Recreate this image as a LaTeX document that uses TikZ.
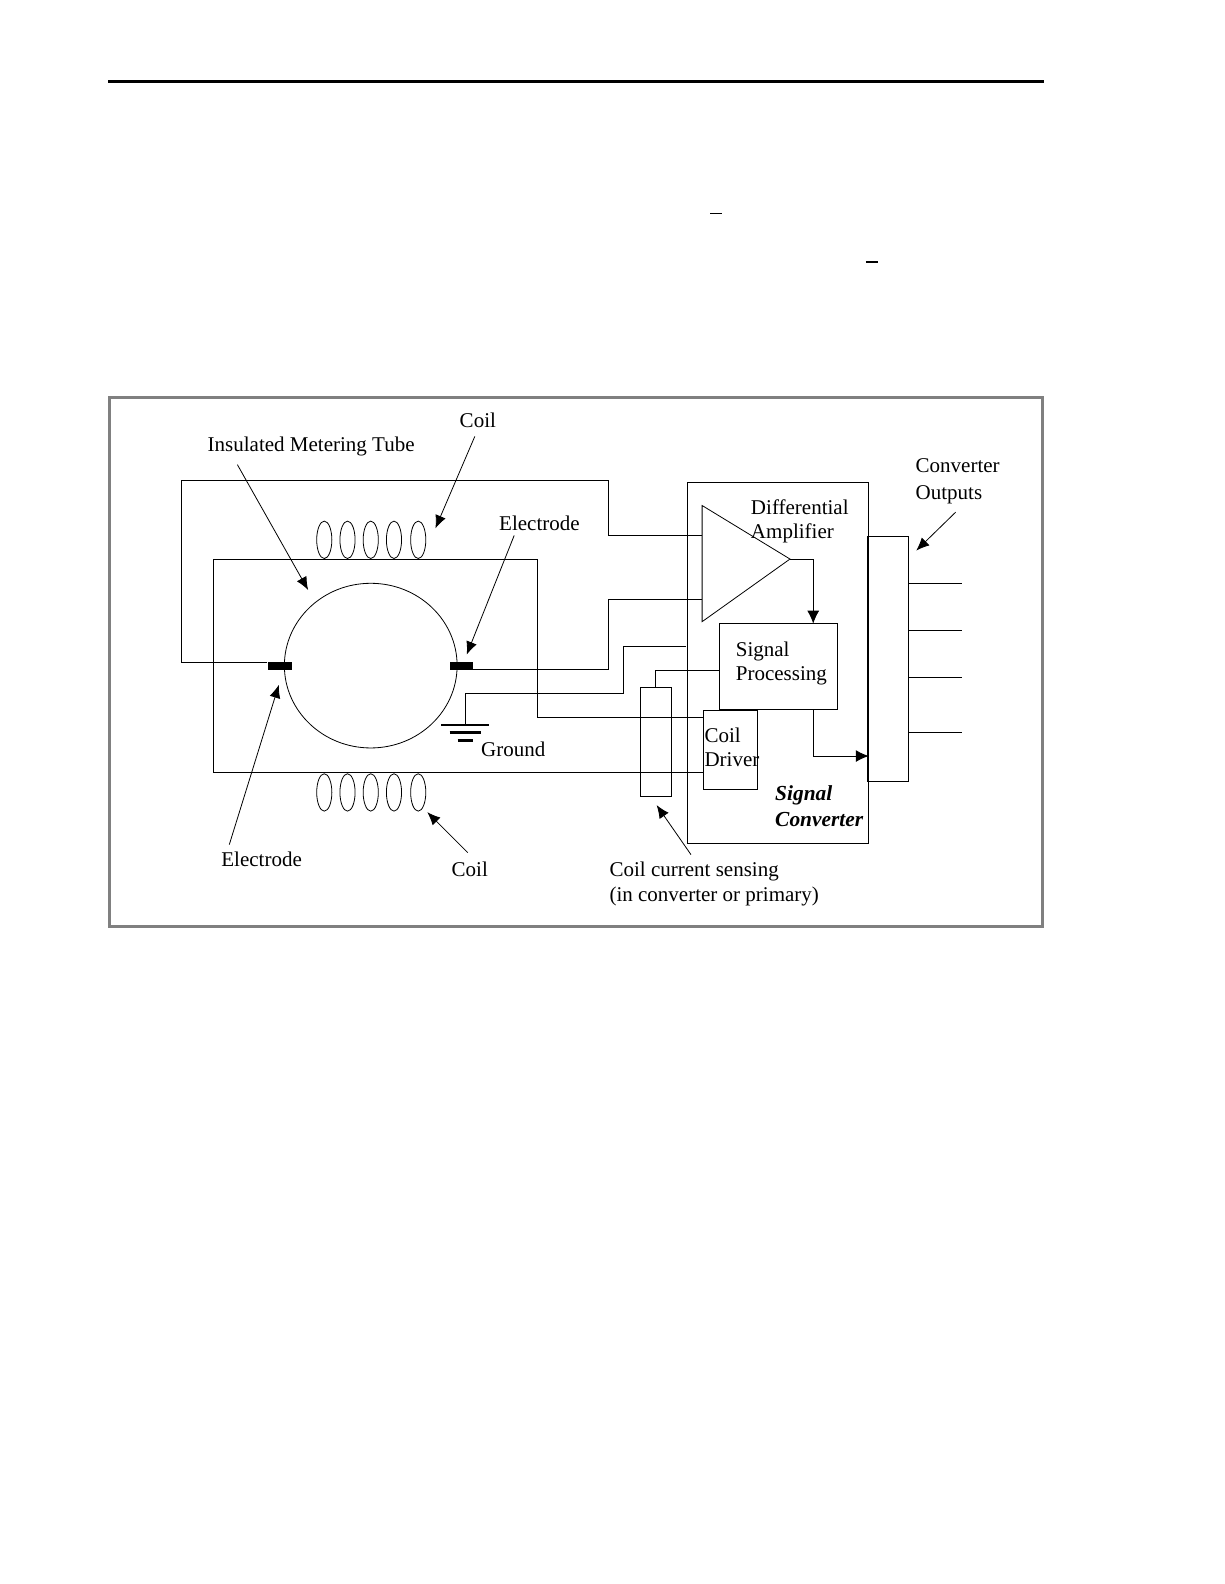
\documentclass[tikz,border=0pt]{standalone}
\usepackage{fontspec}
\setmainfont{Liberation Serif}
\usetikzlibrary{arrows.meta,fit}
\begin{document}
\begin{tikzpicture}[
    x=0.50495pt,
    y=-0.50495pt,
    line join=miter,
    rulebar/.style={draw=black, line width=1.5pt},
    frame/.style={draw=black!50, line width=1.5pt},
    wire/.style={draw=black, line width=0.5pt},
    thin wire/.style={draw=black, line width=0.4pt},
    box/.style={draw=black, line width=0.5pt, inner sep=0pt, fit=#1},
    electrode/.style={fill=black},
    pointer/.style={draw=black, line width=0.4pt, -{Latex[length=6.5pt,width=5.5pt]}},
    flow/.style={draw=black, line width=0.5pt, -{Latex[length=6.5pt,width=6pt]}},
    lab/.style={font=\fontsize{10.5}{12.2}\selectfont, inner sep=0pt, align=left},
    boldlab/.style={font=\fontsize{10.7}{13}\selectfont\bfseries\itshape, inner sep=0pt, align=left}
]
\useasboundingbox (0,0) rectangle (1212,1568);

% page marks
\coordinate (ruleL) at (107,81);
\coordinate (ruleR) at (1033,81);
\draw[rulebar] (ruleL) -- (ruleR);
\draw[line width=0.5pt] (703,211) -- (715,211);
\draw[line width=1pt] (857,259) -- (869,259);
\draw[frame] (108,393) rectangle (1032,917);

\begin{scope}[yshift=-0.2pt]
% tube and coils
\coordinate (tubeC) at (367,658.5);
\draw[thin wire] (tubeC) ellipse [x radius=85.5, y radius=81.5];
\foreach \cx in {321,344,367,390,414} {
  \draw[thin wire] (\cx,534) ellipse [x radius=7.5, y radius=18.5];
  \draw[thin wire] (\cx,784) ellipse [x radius=7.5, y radius=18.5];
}

% electrodes
\coordinate (elecLa) at (265,655);
\coordinate (elecLb) at (289,663);
\coordinate (elecRa) at (445,655);
\coordinate (elecRb) at (468,663);
\node[electrode, inner sep=0pt, fit={(elecLa)(elecLb)}] (elecL) {};
\node[electrode, inner sep=0pt, fit={(elecRa)(elecRb)}] (elecR) {};

% boxes
\coordinate (convA) at (681,477);
\coordinate (convB) at (860,835);
\node[box={(convA)(convB)}] (conv) {};
\coordinate (spA) at (712,617);
\coordinate (spB) at (829,702);
\node[box={(spA)(spB)}] (sigproc) {};
\coordinate (drvA) at (696,703);
\coordinate (drvB) at (750,781);
\node[box={(drvA)(drvB)}] (driver) {};
\coordinate (senseA) at (634,680);
\coordinate (senseB) at (665,788);
\node[box={(senseA)(senseB)}] (sense) {};
\coordinate (outA) at (860,531);
\coordinate (outB) at (899,773);
\node[box={(outA)(outB)}] (outbox) {};
\draw[draw=black, line width=1pt] (outbox.north west) -- (outbox.south west);

% amplifier
\coordinate (ampA) at (695,500);
\coordinate (ampB) at (695,615);
\coordinate (ampO) at (782,553);
\draw[thin wire] (ampA) -- (ampO) -- (ampB) -- cycle;

% wires
\coordinate (ampIn) at (695,530);
\coordinate (ampIn2) at (695,593);
\draw[thin wire] (elecL.north west |- 0,655) -- (180,655) -- (180,475) -- (602,475) -- (602,530) -- (ampIn);
\draw[wire] (elecR.east |- 0,662) -- (602,662) -- (602,593) -- (ampIn2);
\coordinate (gndTop) at (461,717);
\coordinate (gndEnd) at (679,640);
\draw[wire] (gndTop) -- (461,686) -- (617,686) -- (617,640) -- (gndEnd);
\draw[wire] (211,553) -- (532,553) -- (532,710) -- (driver.west |- 0,710);
\draw[wire] (211,553) -- (211,764) -- (driver.west |- 0,764);
\draw[wire] (sigproc.west |- 0,663) -- (649,663) -- (649,680);
\draw[flow] (ampO) -- (805,553) -- (805,617);
\draw[flow] (805,702) -- (805,748) -- (860,748);
\foreach \oy in {577,624,670,725} {
  \draw[wire] (899,\oy) -- (952,\oy);
}

% ground
\draw[line width=1pt] (437,717) -- (484,717);
\draw[line width=1.5pt] (445,725) -- (476,725);
\draw[line width=1.5pt] (453,733) -- (468,733);
\end{scope}

% labels
\node[lab] (labCoilT) at (473,416) {Coil};
\node[lab] (labTube) at (308,442) {Insulated Metering Tube};
\node[lab] (labElecR) at (534,518) {Electrode};
\node[lab] (labGround) at (508,742) {Ground};
\node[lab] (labElecL) at (259,851) {Electrode};
\node[lab] (labCoilB) at (465,861) {Coil};
\node[lab, anchor=west] (labSense) at (603,875) {Coil current sensing\\(in converter or primary)};
\node[lab, anchor=west] (labOut) at (906,476.5) {Converter\\[1pt]Outputs};
\node[lab, anchor=west] (labAmp) at (743,516) {Differential\\Amplifier};
\node[lab, anchor=west] (labProc) at (728,657) {Signal\\Processing};
\node[lab, anchor=west] (labDrv) at (697,740) {Coil\\Driver};
\node[boldlab, anchor=west] (labConv) at (767,798) {Signal\\Converter};

% pointers
\coordinate (tipCoilT) at (431,523);
\coordinate (tipTube) at (305,584);
\coordinate (tipElecR) at (462,648);
\coordinate (tipElecL) at (276,678);
\coordinate (tipCoilB) at (423,804);
\coordinate (tipSense) at (650,797);
\coordinate (tipOut) at (907,545);
\draw[pointer] (470,432) -- (tipCoilT);
\draw[pointer] (235,460) -- (tipTube);
\draw[pointer] (509,530) -- (tipElecR);
\draw[pointer] (227,836) -- (tipElecL);
\draw[pointer] (463,844) -- (tipCoilB);
\draw[pointer] (684,846) -- (tipSense);
\draw[pointer] (946,507) -- (tipOut);
\end{tikzpicture}
\end{document}
